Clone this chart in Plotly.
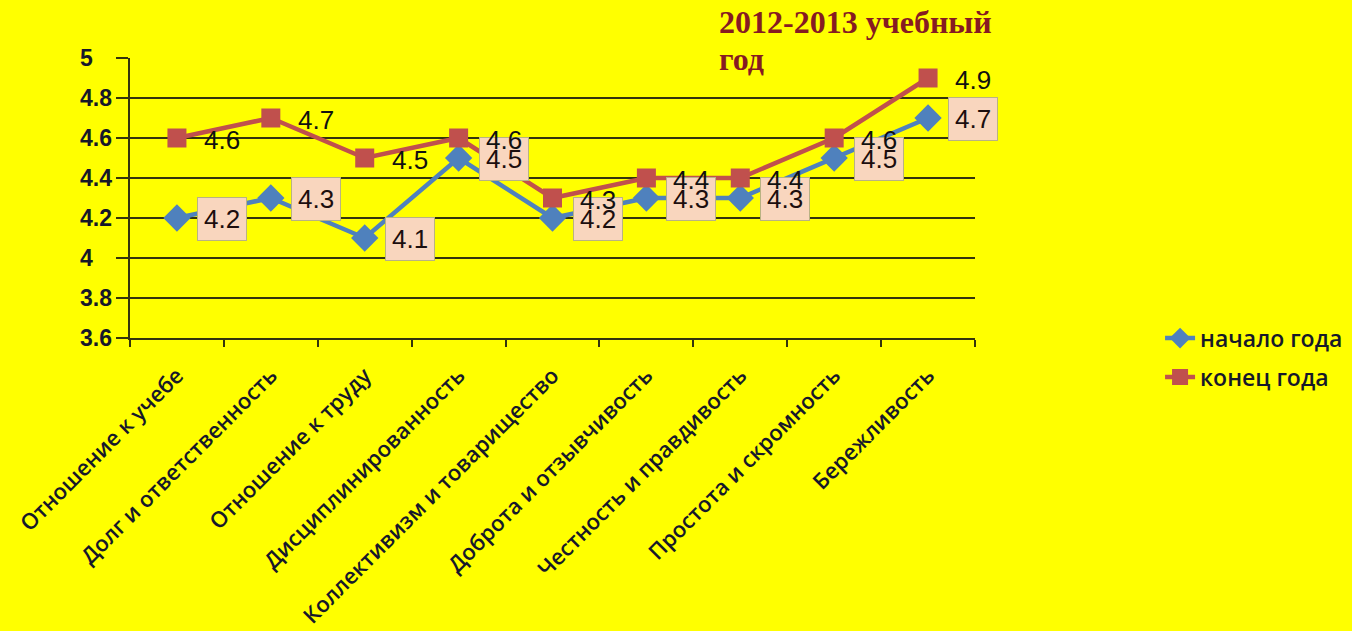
import plotly.graph_objects as go

categories = ["Отношение к учебе", "Долг и ответственность", "Отношение к труду",
              "Дисциплинированность", "Коллективизм и товарищество",
              "Доброта и отзывчивость", "Честность и правдивость",
              "Простота и скромность", "Бережливость"]
start_vals = [4.2, 4.3, 4.1, 4.5, 4.2, 4.3, 4.3, 4.5, 4.7]
end_vals = [4.6, 4.7, 4.5, 4.6, 4.3, 4.4, 4.4, 4.6, 4.9]
series_names = ["начало года", "конец года"]
y_ticks = [3.6, 3.8, 4.0, 4.2, 4.4, 4.6, 4.8, 5.0]
y_tick_labels = ["3.6", "3.8", "4", "4.2", "4.4", "4.6", "4.8", "5"]
title_lines = ["2012-2013 учебный", "год"]

BLUE = "#4F81BD"
RED = "#C0504D"
GRID = "#34340c"
TXT = "#16182a"

fig = go.Figure()
fig.add_trace(go.Scatter(x=categories, y=start_vals, name=series_names[0], mode="lines+markers",
                         legendgroup="a",
                         line=dict(color=BLUE, width=4.5),
                         marker=dict(symbol="diamond", size=21, color=BLUE)))
fig.add_trace(go.Scatter(x=categories, y=end_vals, name=series_names[1], mode="lines+markers",
                         legendgroup="b",
                         line=dict(color=RED, width=4.5),
                         marker=dict(symbol="square", size=19, color=RED)))

annotations = []
for c, v in zip(categories, start_vals):
    annotations.append(dict(x=c, y=v, text=f"{v:.1f}", showarrow=False, xshift=45, yshift=-1,
                            font=dict(family="Liberation Sans", size=26, color="#1c0e0e"),
                            bgcolor="#F9D6BE", bordercolor="#B9B282", borderwidth=1, borderpad=6))
for c, v in zip(categories, end_vals):
    annotations.append(dict(x=c, y=v, text=f"{v:.1f}", showarrow=False, xshift=45, yshift=-2,
                            font=dict(family="Liberation Sans", size=26, color="#111111")))
for t, lab in zip(y_ticks, y_tick_labels):
    annotations.append(dict(xref="paper", yref="y", x=-0.0615, y=t, xanchor="left", yanchor="middle",
                            text=lab, showarrow=False,
                            font=dict(family="Liberation Sans", size=23, color=TXT, weight="bold")))
for line, ypos in zip(title_lines, [1.2, 1.068]):
    annotations.append(dict(xref="paper", yref="paper", x=0.695, y=ypos, xanchor="left", yanchor="top",
                            text=line, showarrow=False, align="left",
                            font=dict(family="Liberation Serif", size=32, color="#861B22", weight="bold")))

fig.update_layout(
    width=1352, height=631,
    paper_bgcolor="#FFFF00", plot_bgcolor="#FFFF00",
    margin=dict(l=130, r=377, t=58, b=293, autoexpand=False),
    showlegend=True,
    legend=dict(x=1.219, y=-0.07, xanchor="left", yanchor="middle", traceorder="grouped",
                tracegroupgap=6,
                font=dict(family="Open Sans", size=23, color=TXT, weight=600),
                bgcolor="rgba(0,0,0,0)", itemwidth=30),
    annotations=annotations,
)
fig.update_yaxes(range=[3.6, 5.0], dtick=0.2, tick0=3.6, showgrid=True, gridcolor=GRID, gridwidth=2,
                 ticks="outside", ticklen=12, tickcolor=GRID, tickwidth=2, showticklabels=False,
                 showline=True, linecolor=GRID, linewidth=2, zeroline=False, automargin=False)
fig.update_xaxes(type="category", tickangle=-45, tickson="boundaries", ticks="outside", ticklen=7,
                 tickcolor=GRID, tickwidth=2, showline=True, linecolor=GRID, linewidth=2,
                 showgrid=False, range=[-0.5, 8.5], ticklabelstandoff=14, automargin=False,
                 tickfont=dict(family="Open Sans", size=22, color=TXT, weight=600))

fig.write_html("out.html", config={"displayModeBar": False},
               post_script="document.body.style.margin='0';")
